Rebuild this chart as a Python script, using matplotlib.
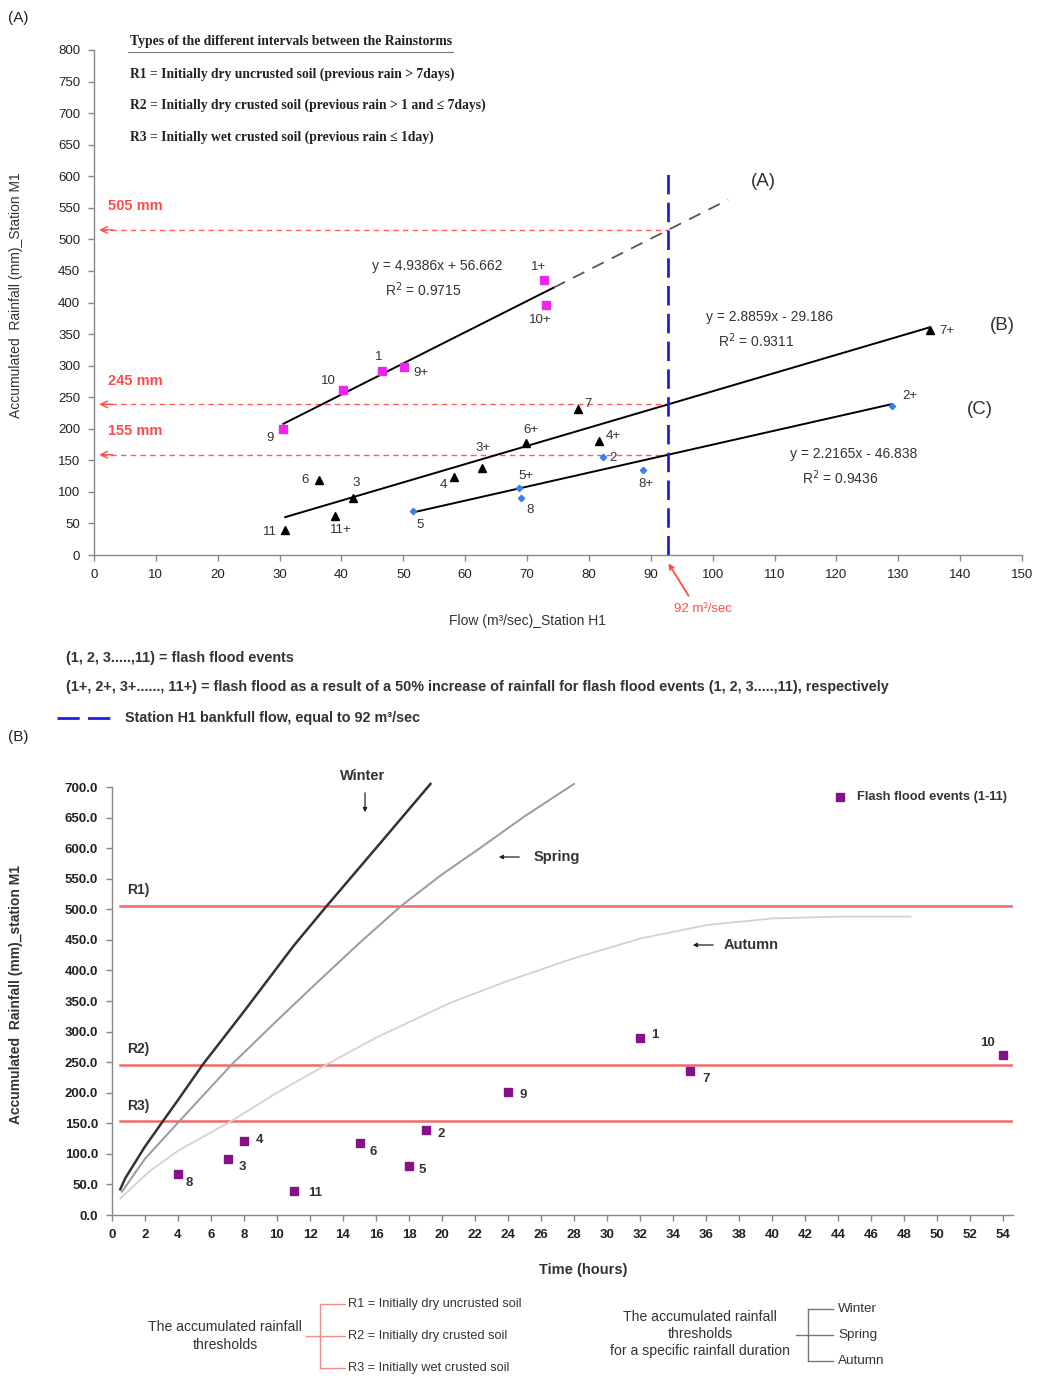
import matplotlib.pyplot as plt
from matplotlib.lines import Line2D
import numpy as np

W, H = 1040, 1376

# ---------------- panel (A): flow vs accumulated rainfall ----------------
a_labels = ["9", "10", "1", "9+", "1+", "10+"]
a_flow = [30.6, 40.2, 46.5, 50.1, 72.7, 73.1]
a_rain = [199, 262, 291, 298, 436, 396]

b_labels = ["11", "6", "11+", "3", "4", "3+", "6+", "7", "4+", "7+"]
b_flow = [30.9, 36.3, 39.0, 41.9, 58.2, 62.7, 69.8, 78.2, 81.7, 135.1]
b_rain = [39, 119, 61, 91, 123, 138, 177, 232, 181, 356]

c_labels = ["5", "5+", "8", "2", "8+", "2+"]
c_flow = [51.6, 68.7, 69.1, 82.2, 88.7, 129.0]
c_rain = [69, 106, 90, 156, 134, 236]

# slope, intercept, r2 of the three fits
fit_a = (4.9386, 56.662, 0.9715)
fit_b = (2.8859, -29.186, 0.9311)
fit_c = (2.2165, -46.838, 0.9436)
fit_a_extend_to = 102.5
bankfull_flow = 92.8
threshold_names = ["505 mm", "245 mm", "155 mm"]

# ---------------- panel (B): rainfall duration curves ----------------
winter_h = [0.5, 0.8, 2, 3.1, 4, 5.5, 8, 11, 13, 16, 19.3]
winter_mm = [42, 60, 112, 154, 188, 246, 333, 440, 505, 600, 705]
spring_h = [0.6, 2, 4.1, 7.25, 10, 12.5, 15, 17.5, 20, 22.3, 25, 28]
spring_mm = [38, 92, 154, 246, 318, 382, 445, 505, 557, 600, 652, 705]
autumn_h = [0.5, 2.3, 4, 7.25, 10, 13, 16, 20.5, 24, 28, 32, 36, 40, 44, 48.4]
autumn_mm = [27, 72, 105, 154, 200, 246, 290, 347, 383, 420, 452, 474, 485, 488, 488]

event_ids = ["8", "3", "4", "11", "6", "5", "2", "9", "1", "7", "10"]
event_hours = [4, 7, 8, 11, 15, 18, 19, 24, 32, 35, 54]
event_mm = [66.5, 91.5, 121.4, 39.7, 117, 80.6, 138.9, 200.5, 289.3, 236, 262]

thresholds = [506, 246, 154]
threshold_ids = ["R1)", "R2)", "R3)"]

# label offsets (points) for the point annotations
a_offsets = {
    "9": (-9.5, -6), "10": (-10.5, 6.5), "1": (-2, 10), "9+": (12, -4.5),
    "1+": (-3.5, 9.5), "10+": (-4, -11), "11": (-11, -1.5), "6": (-10, 0),
    "11+": (4, -9.5), "3": (2, 10.5), "4": (-7.5, -5.5), "3+": (1, 14.5),
    "6+": (4, 9.5), "7": (7.5, 3), "4+": (10, 3.5), "7+": (12, -0.5),
    "5": (5, -9.5), "5+": (5, 8.5), "8": (6.5, -8.5), "2": (7.5, -1),
    "8+": (2, -9.5), "2+": (12.5, 7.5),
}
b_offsets = {
    "8": (8, -6), "3": (10.5, -6), "4": (11, 0.5), "11": (15.5, -1.5),
    "6": (10, -6), "5": (9.5, -3), "2": (11, -3), "9": (11, -2),
    "1": (11, 2), "7": (12, -6), "10": (-11.5, 8.5),
}

plt.rcParams["font.family"] = ["Liberation Sans", "DejaVu Sans"]
NARROW = ["Liberation Sans Narrow", "Liberation Sans", "DejaVu Sans"]
SERIF = ["Liberation Serif", "DejaVu Serif"]
TXT = "#333333"
AX = "#888888"


def fx(x):
    return x / W


def fy(y):
    return 1 - y / H


def style_axes(ax, bold=False):
    for side in ("top", "right"):
        ax.spines[side].set_visible(False)
    for side in ("left", "bottom"):
        ax.spines[side].set_color(AX)
        ax.spines[side].set_linewidth(1.0)
    ax.tick_params(direction="out", length=4, width=1, color=AX,
                   labelsize=9.5, labelcolor="#222222", pad=6)
    if bold:
        for lab in ax.get_xticklabels() + ax.get_yticklabels():
            lab.set_fontweight("bold")


fig = plt.figure(figsize=(W / 100, H / 100), dpi=100)

# =============================== panel A ===============================
axA = fig.add_axes([fx(94), fy(555), 928 / W, 505 / H])
axA.set_xlim(0, 150)
axA.set_ylim(0, 800)
axA.set_xticks(np.arange(0, 151, 10))
axA.set_yticks(np.arange(0, 801, 50))
style_axes(axA)

# fitted lines
for (m, c, _), xs in ((fit_a, (min(a_flow), 74.3)),
                      (fit_b, (min(b_flow), max(b_flow))),
                      (fit_c, (min(c_flow), max(c_flow)))):
    xx = np.array(xs)
    axA.plot(xx, m * xx + c, color="black", lw=1.4, zorder=3)
xx = np.array([74.3, fit_a_extend_to])
axA.plot(xx, fit_a[0] * xx + fit_a[1], color="#555555", lw=1.3,
         dashes=(7, 5), zorder=3)

# bankfull line and threshold arrows
axA.plot([bankfull_flow, bankfull_flow], [0, 605], color="#1f1fe0", lw=2,
         dashes=(7, 3), zorder=4)
red = "#ff4a4a"
for fit, name in zip((fit_a, fit_b, fit_c), threshold_names):
    yv = fit[0] * bankfull_flow + fit[1]
    axA.plot([1.2, bankfull_flow], [yv, yv], color=red, lw=1.0,
             dashes=(4, 3), alpha=0.9, zorder=2)
    axA.annotate("", xy=(0.4, yv), xytext=(3.5, yv),
                 arrowprops=dict(arrowstyle="->", color=red, lw=1.0,
                                 mutation_scale=12))
    axA.annotate(name, xy=(2.2, yv), xytext=(0, 12), textcoords="offset points",
                 color=red, fontsize=10.5, fontweight="bold", va="bottom")

# points
axA.plot(a_flow, a_rain, "s", color="#f025f0", ms=5.5, zorder=5)
axA.plot(b_flow, b_rain, "^", color="black", ms=5.5, zorder=5)
axA.plot(c_flow, c_rain, "D", color="#3a7ff0", ms=3.2, zorder=5)
for labels, xs, ys in ((a_labels, a_flow, a_rain), (b_labels, b_flow, b_rain),
                       (c_labels, c_flow, c_rain)):
    for lab, x, y in zip(labels, xs, ys):
        axA.annotate(lab, xy=(x, y), xytext=a_offsets[lab],
                     textcoords="offset points", ha="center", va="center",
                     fontsize=9.5, color=TXT)

# equations
for fit, (px, py) in ((fit_a, (437, 266)), (fit_b, (770, 317)), (fit_c, (854, 454))):
    m, c, r2 = fit
    sign = "+" if c >= 0 else "-"
    fig.text(fx(px), fy(py), f"y = {m:.4f}x {sign} {abs(c):.3f}", ha="center",
             va="center", fontsize=10, color=TXT)
    fig.text(fx(px - 14), fy(py + 24), f"R$^2$ = {r2:.4f}", ha="center",
             va="center", fontsize=10, color=TXT)

for lab, (px, py) in (("(A)", (763, 182)), ("(B)", (1002, 325)), ("(C)", (980, 410))):
    fig.text(fx(px), fy(py), lab, ha="center", va="center", fontsize=13.5,
             color=TXT)

fig.text(fx(703), fy(609), "92 m³/sec", ha="center", va="center",
         fontsize=9.5, color=red)
fig.add_artist(plt.Annotation("", xy=(fx(667), fy(561)), xytext=(fx(690), fy(598)),
                              xycoords="figure fraction",
                              arrowprops=dict(arrowstyle="->", color=red, lw=1.3,
                                              mutation_scale=8)))

fig.text(fx(16), fy(295), "Accumulated  Rainfall (mm)_Station M1", rotation=90,
         ha="center", va="center", fontsize=10, color=TXT)
fig.text(fx(527), fy(621), "Flow (m³/sec)_Station H1", ha="center",
         va="center", fontsize=10, color=TXT)

# soil-type legend at the top
fig.text(fx(130), fy(42), "Types of the different intervals between the Rainstorms",
         ha="left", va="center", fontsize=9.8, fontweight="bold",
         family=SERIF, color="#222222")
fig.add_artist(Line2D([fx(128), fx(453)], [fy(52), fy(52)], color="#777777",
                      lw=0.8, transform=fig.transFigure))
for i, line in enumerate([
        "R1 = Initially dry uncrusted soil (previous rain > 7days)",
        "R2 = Initially dry crusted soil (previous rain > 1 and ≤ 7days)",
        "R3 = Initially wet crusted soil (previous rain ≤ 1day)"]):
    fig.text(fx(130), fy(74 + 31.5 * i), line, ha="left", va="center",
             fontsize=9.8, fontweight="bold", family=SERIF, color="#222222")

fig.text(fx(8), fy(18), "(A)", ha="left", va="center", fontsize=11, color="#222222")
fig.text(fx(8), fy(737), "(B)", ha="left", va="center", fontsize=11, color="#222222")

fig.text(fx(66), fy(658), "(1, 2, 3.....,11) = flash flood events", ha="left",
         va="center", fontsize=10.4, fontweight="bold", family=NARROW, color=TXT)
fig.text(fx(66), fy(687),
         "(1+, 2+, 3+......, 11+) = flash flood as a result of a 50% increase of "
         "rainfall for flash flood events (1, 2, 3.....,11), respectively",
         ha="left", va="center", fontsize=10.4, fontweight="bold", family=NARROW,
         color=TXT)
fig.add_artist(Line2D([fx(57), fx(112)], [fy(718), fy(718)], color="#1f1fe0",
                      lw=2, dashes=(8, 3), transform=fig.transFigure))
fig.text(fx(125), fy(718), "Station H1 bankfull flow, equal to 92 m³/sec",
         ha="left", va="center", fontsize=10.4, fontweight="bold", family=NARROW,
         color=TXT)

# =============================== panel B ===============================
axB = fig.add_axes([fx(112), fy(1215), 54.6 * 16.5 / W, 428 / H])
axB.set_xlim(0, 54.6)
axB.set_ylim(0, 700)
axB.set_xticks(np.arange(0, 55, 2))
axB.set_yticks(np.arange(0, 701, 50))
axB.set_yticklabels([f"{v:.1f}" for v in np.arange(0, 701, 50)])
style_axes(axB, bold=True)

thr_red = "#f06a6a"
for t, tid in zip(thresholds, threshold_ids):
    axB.plot([0.5, 54.6], [t, t], color=thr_red, lw=1.8, zorder=2)
    axB.annotate(tid, xy=(0.9, t), xytext=(0, 6), textcoords="offset points",
                 fontsize=10, fontweight="bold", color=TXT, va="bottom")

axB.plot(autumn_h, autumn_mm, color="#d2d2d2", lw=1.3, zorder=3, clip_on=False)
axB.plot(spring_h, spring_mm, color="#9a9a9a", lw=1.4, zorder=3, clip_on=False)
axB.plot(winter_h, winter_mm, color="#333333", lw=1.8, zorder=3, clip_on=False)

axB.plot(event_hours, event_mm, "s", color="#86108a", ms=6.3, zorder=5,
         clip_on=False)
for lab, x, y in zip(event_ids, event_hours, event_mm):
    axB.annotate(lab, xy=(x, y), xytext=b_offsets[lab], textcoords="offset points",
                 ha="center", va="center", fontsize=9.5, fontweight="bold",
                 color=TXT)

# season labels with arrows
fig.text(fx(363), fy(776), "Winter", ha="center", va="center", fontsize=10.5,
         fontweight="bold", color=TXT)
fig.text(fx(557), fy(857), "Spring", ha="center", va="center", fontsize=10.5,
         fontweight="bold", color=TXT)
fig.text(fx(751), fy(945), "Autumn", ha="center", va="center", fontsize=10.5,
         fontweight="bold", color=TXT)
for (x0, y0), (x1, y1) in (((365, 790), (365, 815)), ((522, 857), (496, 857)),
                           ((716, 945), (690, 945))):
    fig.add_artist(plt.Annotation("", xy=(fx(x1), fy(y1)), xytext=(fx(x0), fy(y0)),
                                  xycoords="figure fraction",
                                  arrowprops=dict(arrowstyle="-|>", color="#222222",
                                                  lw=0.9, mutation_scale=6)))

# legend marker top-right
fig.add_artist(Line2D([fx(840)], [fy(797)], marker="s", color="#86108a", ms=6,
                      transform=fig.transFigure))
fig.text(fx(857), fy(797), "Flash flood events (1-11)", ha="left", va="center",
         fontsize=9.3, fontweight="bold", family=NARROW, color=TXT)

fig.text(fx(16), fy(995), "Accumulated  Rainfall (mm)_station M1", rotation=90,
         ha="center", va="center", fontsize=10, fontweight="bold", color=TXT)
fig.text(fx(583), fy(1270), "Time (hours)", ha="center", va="center",
         fontsize=10.5, fontweight="bold", color=TXT)

# bottom bracket legends
fig.text(fx(225), fy(1336), "The accumulated rainfall\nthresholds", ha="center",
         va="center", fontsize=10.1, family=NARROW, color=TXT, linespacing=1.3)
br = "#f08c8c"
fig.add_artist(Line2D([fx(320), fx(320)], [fy(1304), fy(1368)], color=br, lw=1,
                      transform=fig.transFigure))
fig.add_artist(Line2D([fx(306), fx(320)], [fy(1336), fy(1336)], color=br, lw=1,
                      transform=fig.transFigure))
for i, line in enumerate(["R1 = Initially dry uncrusted soil",
                          "R2 = Initially dry crusted soil",
                          "R3 = Initially wet crusted soil"]):
    yy = 1304 + 32 * i
    fig.add_artist(Line2D([fx(320), fx(345)], [fy(yy), fy(yy)], color=br, lw=1,
                          transform=fig.transFigure))
    fig.text(fx(348), fy(yy), line, ha="left", va="center", fontsize=9.2,
             family=NARROW, color=TXT)

fig.text(fx(700), fy(1334),
         "The accumulated rainfall\nthresholds\nfor a specific rainfall duration",
         ha="center", va="center", fontsize=10.1, family=NARROW, color=TXT,
         linespacing=1.25)
gr = "#777777"
fig.add_artist(Line2D([fx(808), fx(808)], [fy(1309), fy(1361)], color=gr, lw=1,
                      transform=fig.transFigure))
fig.add_artist(Line2D([fx(796), fx(808)], [fy(1335), fy(1335)], color=gr, lw=1,
                      transform=fig.transFigure))
for i, season in enumerate(["Winter", "Spring", "Autumn"]):
    yy = 1309 + 26 * i
    fig.add_artist(Line2D([fx(808), fx(833)], [fy(yy), fy(yy)], color=gr, lw=1,
                          transform=fig.transFigure))
    fig.text(fx(838), fy(yy), season, ha="left", va="center", fontsize=9.7,
             family=NARROW, color=TXT)

fig.savefig("out.png", dpi=100)
